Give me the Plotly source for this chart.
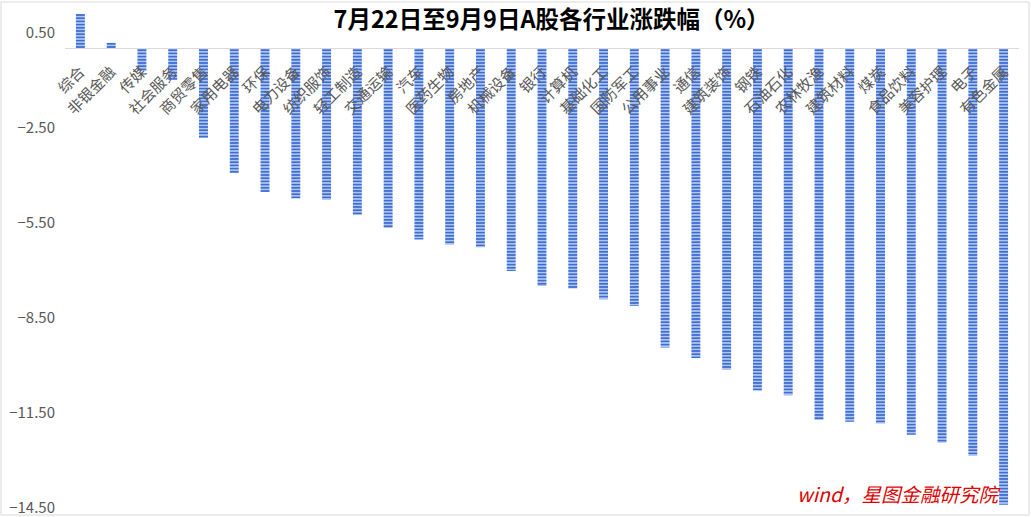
import plotly.graph_objects as go

categories = ["综合", "非银金融", "传媒", "社会服务", "商贸零售", "家用电器", "环保", "电力设备",
              "纺织服饰", "轻工制造", "交通运输", "汽车", "医药生物", "房地产", "机械设备", "银行",
              "计算机", "基础化工", "国防军工", "公用事业", "通信", "建筑装饰", "钢铁", "石油石化",
              "农林牧渔", "建筑材料", "煤炭", "食品饮料", "美容护理", "电子", "有色金属"]
values = [1.08, 0.17, -0.72, -1.00, -2.84, -3.94, -4.54, -4.75,
          -4.79, -5.27, -5.68, -6.04, -6.20, -6.29, -7.04, -7.51,
          -7.59, -7.93, -8.14, -9.45, -9.78, -10.15, -10.82, -10.96,
          -11.74, -11.80, -11.85, -12.21, -12.46, -12.87, -14.42]
y_ticks = [0.5, -2.5, -5.5, -8.5, -11.5, -14.5]
title_text = "7月22日至9月9日A股各行业涨跌幅（%）"
source_text = "wind，星图金融研究院"

y_min, y_max = -14.52, 1.3

fig = go.Figure(go.Bar(
    x=categories, y=values, width=0.29,
    marker=dict(color="#3A6DD6", line=dict(width=0),
                pattern=dict(shape="-", fgcolor="#3A6DD6", bgcolor="#FFFFFF",
                             size=3.2, solidity=0.7, fillmode="replace")),
))

fig.update_layout(
    width=1031, height=517,
    margin=dict(l=65, r=12, t=7, b=9, autoexpand=False),
    paper_bgcolor="white", plot_bgcolor="white",
    font=dict(family="Noto Sans CJK SC, Microsoft YaHei, sans-serif", color="#595959"),
    showlegend=False,
    title=dict(text="<b>" + title_text + "</b>", x=0.535, xanchor="center",
               y=1 - 20 / 517, yanchor="middle", yref="container",
               font=dict(size=23.5, color="#000000",
                         family="Noto Sans CJK SC, sans-serif")),
    xaxis=dict(anchor="free", position=(0 - y_min) / (y_max - y_min), automargin=False,
               tickangle=-45, showline=True, linecolor="#D9D9D9", linewidth=1,
               ticks="", showgrid=False, tickfont=dict(size=15, color="#595959"),
               ticklabelstandoff=8),
    yaxis=dict(range=[y_min, y_max], tickvals=y_ticks, tickformat=".2f", automargin=False,
               showgrid=False, zeroline=False, showline=False, ticks="",
               tickfont=dict(size=15, color="#595959"), ticklabelstandoff=9),
    bargap=0.7,
)

fig.add_annotation(text="<i>" + source_text + "</i>", xref="paper", yref="paper",
                   x=(1002 - 65) / 954, y=-0.004, xanchor="right", yanchor="bottom",
                   showarrow=False,
                   font=dict(size=19.5, color="#E00000",
                             family="Noto Sans CJK SC, sans-serif"))

fig.add_shape(type="rect", xref="paper", yref="paper",
              x0=-64 / 954, x1=1 + 10 / 954, y0=-7 / 501, y1=1 + 5 / 501,
              line=dict(color="#D9D9D9", width=1), fillcolor="rgba(0,0,0,0)", layer="below")

fig.write_html("out.html", config={"displayModeBar": False},
               post_script="document.body.style.margin='0';document.body.style.padding='0';")
